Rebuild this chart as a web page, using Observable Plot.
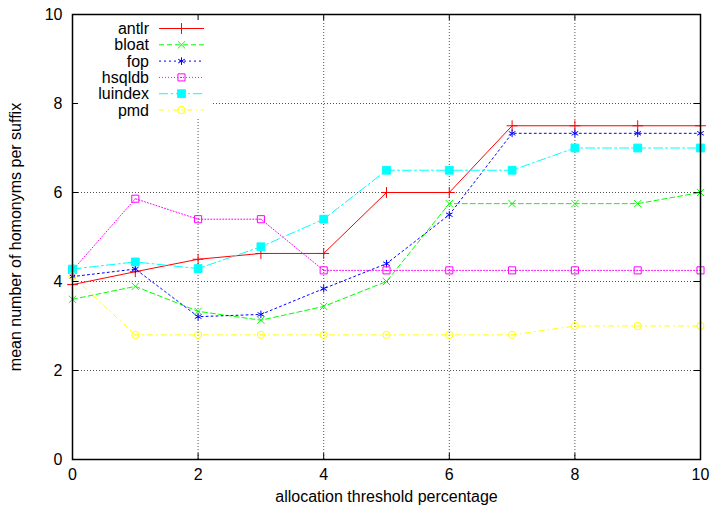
<!DOCTYPE html>
<html><head><meta charset="utf-8">
<script src="https://cdn.jsdelivr.net/npm/d3@7"></script>
<script src="https://cdn.jsdelivr.net/npm/@observablehq/plot@0.6"></script>
<style>body{margin:0;background:#fff} svg{display:block}</style>
</head><body><div id="chart"></div>
<script>
// ---- data ----
const thresholds = [0, 1, 2, 3, 4, 5, 6, 7, 8, 9, 10];
const antlr   = [3.93, 4.22, 4.50, 4.63, 4.63, 6.00, 6.00, 7.50, 7.50, 7.50, 7.50];
const bloat   = [3.60, 3.89, 3.33, 3.13, 3.44, 4.00, 5.75, 5.75, 5.75, 5.75, 6.00];
const fop     = [4.11, 4.28, 3.21, 3.26, 3.84, 4.40, 5.50, 7.33, 7.33, 7.33, 7.33];
const hsqldb  = [4.25, 5.86, 5.40, 5.40, 4.25, 4.25, 4.25, 4.25, 4.25, 4.25, 4.25];
const luindex = [4.28, 4.44, 4.29, 4.78, 5.40, 6.50, 6.50, 6.50, 7.00, 7.00, 7.00];
const pmd     = [4.12, 2.80, 2.80, 2.80, 2.80, 2.80, 2.80, 2.80, 3.00, 3.00, 3.00];
const seriesNames = ["antlr", "bloat", "fop", "hsqldb", "luindex", "pmd"];
const xTicks = [0, 2, 4, 6, 8, 10];
const yTicks = [0, 2, 4, 6, 8, 10];
const xLabel = "allocation threshold percentage";
const yLabel = "mean number of homonyms per suffix";

// ---- styles ----
const styles = {
  antlr:   {color: "#ff0000", dash: null,        symbol: "plus",     r: 3.6, filled: false},
  bloat:   {color: "#00ff00", dash: "5,3",       symbol: "times",    r: 3.4, filled: false},
  fop:     {color: "#0000ff", dash: "2,3",       symbol: "asterisk", r: 3.6, filled: false},
  hsqldb:  {color: "#ff00ff", dash: "1,2",       symbol: "square",   r: 4.0, filled: false},
  luindex: {color: "#00ffff", dash: "9,3,2,3",   symbol: "square",   r: 4.4, filled: true},
  pmd:     {color: "#ffff00", dash: "5,4,1,4",   symbol: "circle",   r: 3.6, filled: false}
};
const values = {antlr, bloat, fop, hsqldb, luindex, pmd};
const rows = seriesNames.flatMap(s => thresholds.map((t, i) => ({series: s, x: t, y: values[s][i]})));

const W = 715, H = 508, mL = 72, mR = 15, mT = 14, mB = 49;
const fw = W - mL - mR, fh = H - mT - mB;
const FONT = "'Liberation Sans', Arial, Helvetica, sans-serif";
const FS = 16;

const seriesMarks = seriesNames.flatMap(s => {
  const st = styles[s];
  const d = rows.filter(r => r.series === s);
  const m = [
    Plot.line(d, {x: "x", y: "y", stroke: st.color, strokeWidth: 1, strokeDasharray: st.dash || undefined}),
    Plot.dot(d, {x: "x", y: "y", symbol: st.symbol, r: st.r, stroke: st.color, strokeWidth: 1,
                 fill: st.filled ? st.color : "none"})
  ];
  if (s === "hsqldb" || s === "pmd") m.push(Plot.dot(d, {x: "x", y: "y", r: 0.6, fill: st.color, stroke: "none"}));
  return m;
});

const chart = Plot.plot({
  width: W, height: H,
  marginLeft: mL, marginRight: mR, marginTop: mT, marginBottom: mB,
  style: {fontFamily: FONT, fontSize: FS + "px", color: "black", background: "white"},
  x: {domain: [0, 10]},
  y: {domain: [0, 10]},
  marks: [
    Plot.ruleX(xTicks, {x: d => d, stroke: "#555", strokeDasharray: "1,2"}),
    Plot.ruleY(yTicks, {y: d => d, stroke: "#555", strokeDasharray: "1,2"}),
    // inward ticks, mirrored
    Plot.ruleX(xTicks, {x: d => d, stroke: "black", insetTop: fh - 6}),
    Plot.ruleX(xTicks, {x: d => d, stroke: "black", insetBottom: fh - 6}),
    Plot.ruleY(yTicks, {y: d => d, stroke: "black", insetRight: fw - 6}),
    Plot.ruleY(yTicks, {y: d => d, stroke: "black", insetLeft: fw - 6}),
    Plot.axisX({ticks: xTicks, tickSize: 0, tickPadding: 9, label: null, fontSize: FS}),
    Plot.axisY({ticks: yTicks, tickSize: 0, tickPadding: 10, label: null, fontSize: FS}),
    Plot.text([xLabel], {frameAnchor: "bottom", dy: 42, text: d => d, fontSize: FS, textAnchor: "middle"}),
    Plot.text([yLabel], {frameAnchor: "left", dx: -57, rotate: -90, text: d => d, fontSize: FS, textAnchor: "middle"}),
    ...seriesMarks,
    Plot.frame({stroke: "black", strokeWidth: 1.5})
  ]
});
document.getElementById("chart").appendChild(chart);

// ---- legend (gnuplot key, opaque box) ----
const svg = d3.select(chart);
const ruleGroups = chart.querySelectorAll('g[aria-label="rule"]');
const gridY = ruleGroups[1];
const bg = document.createElementNS("http://www.w3.org/2000/svg", "rect");
bg.setAttribute("x", mL + 1); bg.setAttribute("y", mT + 1);
bg.setAttribute("width", 213 - mL - 1); bg.setAttribute("height", 119 - mT - 1);
bg.setAttribute("fill", "white");
if (gridY) gridY.parentNode.insertBefore(bg, gridY.nextSibling);

const symMap = {plus: d3.symbolPlus, times: d3.symbolTimes, asterisk: d3.symbolAsterisk,
                square: d3.symbolSquare, circle: d3.symbolCircle};
const lg = svg.append("g").attr("font-family", FONT).attr("font-size", FS + "px");
seriesNames.forEach((s, i) => {
  const st = styles[s];
  const y = 28.5 + i * 16.3;
  lg.append("text").attr("x", 149).attr("y", y).attr("text-anchor", "end")
    .attr("dy", "0.35em").text(s);
  lg.append("line").attr("x1", 159).attr("x2", 204).attr("y1", y).attr("y2", y)
    .attr("stroke", st.color).attr("stroke-width", 1)
    .attr("stroke-dasharray", st.dash || null);
  lg.append("path").attr("transform", `translate(181.5,${y})`)
    .attr("d", d3.symbol(symMap[st.symbol], Math.PI * st.r * st.r)())
    .attr("stroke", st.color).attr("fill", st.filled ? st.color : "none");
  if (s === "hsqldb" || s === "pmd")
    lg.append("circle").attr("cx", 181.5).attr("cy", y).attr("r", 0.6).attr("fill", st.color);
});
</script>
</body></html>
